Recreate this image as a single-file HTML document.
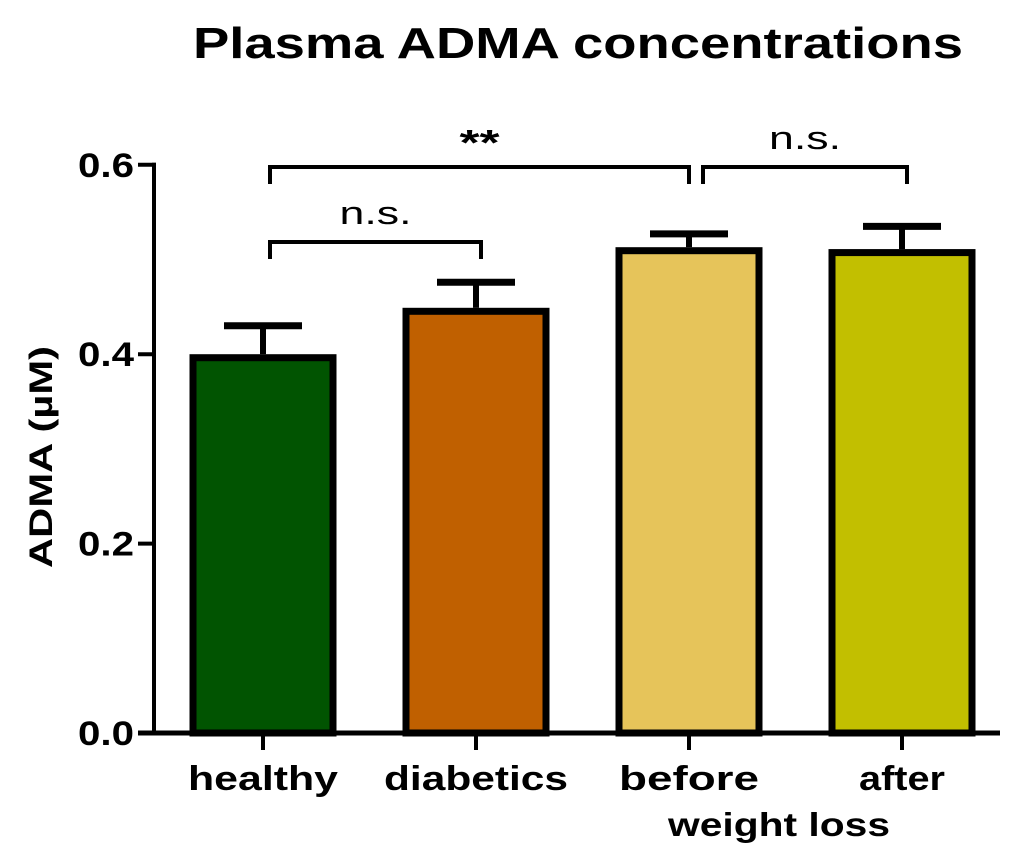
<!DOCTYPE html>
<html><head><meta charset="utf-8"><style>
body{margin:0;background:#fff}
svg text{font-family:"Liberation Sans",Arial,sans-serif;font-weight:bold;fill:#000}
svg text.ns{font-weight:normal}
</style></head><body>
<svg width="1024" height="857" viewBox="0 0 1024 857">
<g id="plot"></g>
<text x="578" y="58" font-size="44" text-anchor="middle" textLength="770" lengthAdjust="spacingAndGlyphs">Plasma ADMA concentrations</text>
<text transform="translate(52,457) rotate(-90)" font-size="32" text-anchor="middle" textLength="222" lengthAdjust="spacingAndGlyphs">ADMA (µM)</text>
<text x="779" y="836" font-size="33" text-anchor="middle" textLength="222" lengthAdjust="spacingAndGlyphs">weight loss</text>
</svg>
<script>
const categories=["healthy","diabetics","before","after"];
const values=[0.400,0.449,0.513,0.511];
const errors=[0.030,0.027,0.014,0.024];
const colors=["#015401","#c06000","#e6c45a","#c2bf00"];
const yTicks=[0.0,0.2,0.4,0.6];
const yTickLabels=["0.0","0.2","0.4","0.6"];
const labelWidths=[150,184,140,86];
const sigBrackets=[{from:0,to:1,level:0,label:"n.s."},{from:0,to:2,level:1,label:"**"},{from:2,to:3,level:1,label:"n.s."}];
const ns="http://www.w3.org/2000/svg";
const g=document.getElementById('plot');
const y=v=>733-v*947;
const x=i=>263+i*213;
const bw=140;
function el(t,a){const e=document.createElementNS(ns,t);for(const k in a)e.setAttribute(k,a[k]);g.appendChild(e);return e;}
let ax=el('line',{x1:154,y1:y(0.6)-2,x2:154,y2:735,stroke:'#000','stroke-width':4});


let bx=el('line',{x1:138,y1:733,x2:1000,y2:733,stroke:'#000','stroke-width':5});


yTicks.forEach((v,i)=>{
 let t=el('line',{x1:138,y1:y(v),x2:156,y2:y(v),stroke:'#000','stroke-width':4});
 
 
 let l=el('text',{x:134,y:y(v)+12,'font-size':34,'text-anchor':'end',textLength:56,lengthAdjust:'spacingAndGlyphs'});l.textContent=yTickLabels[i];
 
 
});
categories.forEach((c,i)=>{
 const cx=x(i),top=y(values[i]),cap=y(values[i]+errors[i]);
 let e=el('line',{x1:cx,y1:cap,x2:cx,y2:top,stroke:'#000','stroke-width':6});
 
 
 let ec=el('line',{x1:cx-39,y1:cap,x2:cx+39,y2:cap,stroke:'#000','stroke-width':7});
 
 
 let r=el('rect',{x:cx-bw/2,y:top+3.5,width:bw,height:733-top-3.5,fill:colors[i],stroke:'#000','stroke-width':7});
 
 
 let t=el('line',{x1:cx,y1:735,x2:cx,y2:750,stroke:'#000','stroke-width':4});
 
 
 let l=el('text',{x:cx,y:790,'font-size':34,'text-anchor':'middle',textLength:labelWidths[i],lengthAdjust:'spacingAndGlyphs'});l.textContent=c;
 
 
});
sigBrackets.forEach(b=>{
 const yy=b.level?167:242;
 const x1=x(b.from)+7+(b.from===2?7:0), x2=x(b.to)+(b.to===2?0:5);
 let p=el('path',{d:`M${x1} ${yy+17}V${yy}H${x2}V${yy+17}`,fill:'none',stroke:'#000','stroke-width':4});
 
 
 const star=b.label==="**";
 let l=el('text',{x:(x1+x2)/2,y:yy-(star?12:18),'font-size':star?36:32,'text-anchor':'middle',textLength:star?40:72,lengthAdjust:'spacingAndGlyphs'});
 if(!star) l.setAttribute('class','ns');
 l.textContent=b.label;
 
 
});
</script>
</body></html>
